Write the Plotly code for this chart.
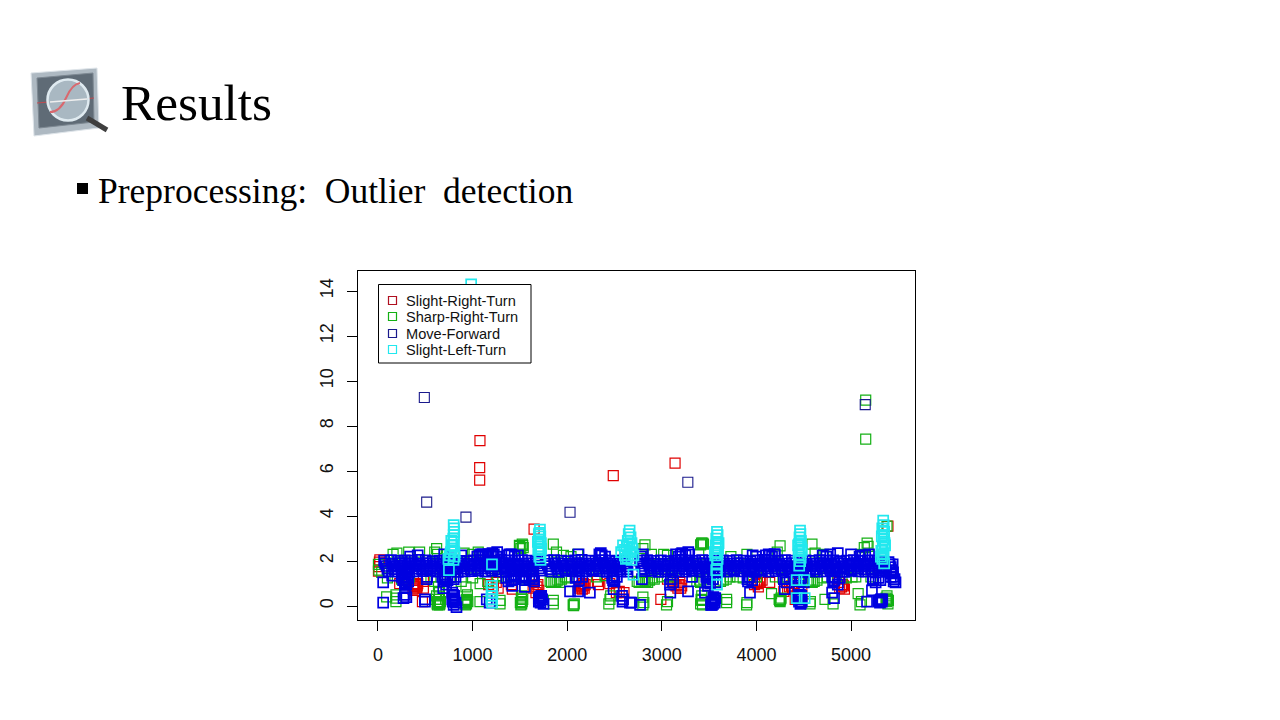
import plotly.graph_objects as go

W, H = 1280, 720
series_names = ["Slight-Right-Turn", "Sharp-Right-Turn", "Move-Forward", "Slight-Left-Turn"]
series_colors = ["#e00000", "#14b014", "#0000e0", "#22e8ee"]
x_ticks = [0, 1000, 2000, 3000, 4000, 5000]
y_ticks = [0, 2, 4, 6, 8, 10, 12, 14]

red_x = [5, 10, 15, 20, 1078, 1075, 1075, 2487, 3140, 1650, 5390,
         370, 385, 400, 410, 420, 375, 392, 405, 415, 2130, 2150, 2170, 2180, 2190, 2140, 2160, 2175,
         3130, 3170, 3190, 3210, 3110, 3150, 3180, 3200, 3980, 4000, 4020, 4060, 4140, 4010, 4040,
         4880, 4910, 4930, 4870, 4900, 4920, 4330, 4370, 4400, 4290, 4350, 4380,
         1640, 1670, 1690, 1700, 1650, 1680, 1220, 1250, 1270, 1170,
         2450, 2320, 2330, 2520, 2990, 3060, 230, 470, 480, 480,
         1410, 1420, 2600, 2550, 2590, 4410, 4480]
red_y = [1.55, 1.75, 1.95, 2.05, 7.35, 6.15, 5.6, 5.8, 6.35, 3.42, 3.55,
         .75, .85, .95, .8, 1.0, .9, .7, .85, .9, .8, .9, 1.0, .8, .95, .85, .75, .9,
         .95, .8, 1.05, .9, 1.1, .9, .95, .8, .95, 1.1, .85, 1.15, 1.05, 1.0, 1.05,
         .8, .95, .75, 1.05, .85, .9, .75, .9, 1.0, .65, .85, .8,
         .8, .6, .95, .7, 1.15, .85, .9, 1.05, .8, .95,
         1.0, 1.1, .95, .6, .3, 1.2, 1.0, .2, .8, 1.1,
         .95, .75, .6, .65, .3, .3, .65]

green_x = [5155, 5155,
           160, 200, 325, 440, 600, 620, 630, 910, 1000, 1060, 1120, 1500, 1525, 1510, 1535, 1495, 1530,
           1853, 1887, 1960, 2040, 2110, 2822, 2800, 2890, 3020, 3060, 3420, 3440, 3390, 3730, 3410, 3432,
           3900, 4250, 4220, 4587, 4620, 4710, 5140, 5170, 5180, 5100, 5380,
           10, 5, 40, 100, 180, 250, 330, 560, 600, 640, 650, 700, 760, 880, 930, 1000, 1080,
           1160, 1260, 1320, 1450, 1530, 1600,
           1820, 1860, 1900, 1940, 1980, 2000, 2310, 2400, 2740, 2790, 2830, 2870, 2920,
           1835, 1880, 1920, 2760, 2810, 2850, 2900, 3000, 3060, 3120, 3400, 3445,
           3370, 3410, 3620, 3680, 3720, 4550, 4590, 4640, 4200, 4280, 4820, 4950, 5050, 5210,
           4570, 4610, 3650, 4330, 3800, 3860, 4000, 5010, 4700, 4750,
           92, 190, 190, 190, 620, 625, 637, 640, 650, 660, 610, 630, 645, 655, 630,
           925, 936, 936, 945, 950, 930, 942, 920, 1078, 1290, 1290, 1505, 1519, 1530, 1519, 1510, 1525, 1515,
           1853, 1853, 2063, 2075, 2068, 2440, 2452, 2460, 2800, 2800, 2810, 3050, 3060,
           3410, 3422, 3422, 3430, 3415, 3685, 3685, 3896, 3900, 4160, 4240, 4250, 4260, 4245, 4255, 4566, 4570,
           4725, 4810, 5075, 5095, 5110, 5375, 5380, 5385, 5390, 5370, 5395]
green_y = [9.15, 7.42,
           2.3, 2.35, 2.4, 2.4, 2.4, 2.55, 2.3, 2.35, 2.3, 2.4, 2.3, 2.65, 2.75, 2.55, 2.6, 2.7, 2.7,
           2.75, 2.4, 2.25, 2.2, 2.3, 2.72, 2.55, 2.3, 2.3, 2.25, 2.8, 2.75, 2.3, 2.2, 2.72, 2.8,
           2.3, 2.67, 2.4, 2.75, 2.35, 2.3, 2.6, 2.8, 2.65, 2.3, 3.55,
           1.6, 1.85, 1.5, 1.25, 1.35, 1.2, 1.3, 1.3, 1.1, .85, .6, 1.25, 1.3, 1.1, .85, 1.25, 1.0,
           1.1, 1.35, 1.3, 1.3, 1.2, 1.3,
           1.1, 1.05, 1.15, 1.2, 1.3, 1.25, 1.3, 1.35, 1.1, 1.05, 1.1, 1.15, 1.2,
           1.05, 1.1, 1.05, 1.05, 1.15, 1.05, 1.25, 1.3, 1.35, 1.3, 1.15, 1.2,
           1.1, 1.05, 1.1, 1.2, 1.3, 1.1, 1.05, 1.15, 1.3, 1.25, 1.3, 1.25, 1.3, 1.3,
           1.15, 1.1, 1.15, 1.3, 1.3, 1.25, 1.3, 1.3, 1.25, 1.3,
           .41, .2, .35, .5, .45, .1, .1, .3, .05, .2, .3, .2, .15, .1, .05,
           .05, .1, .3, .5, .2, .15, .25, .1, .2, .1, .25, .15, .1, .3, .45, .05, .2, .35,
           .1, .25, .05, .1, .02, .1, .3, .45, .4, .05, .15, .05, .2,
           .1, .25, .45, .05, .3, .15, .3, .05, .15, .55, .3, .2, .35, .25, .28, .1, .2,
           .3, .1, .55, .05, .2, .2, .45, .3, .1, .35, .25]

blue_row1_x = [65, 138, 212, 284, 358, 430, 505, 578, 650, 724, 796, 868, 942, 1012, 1086, 1158,
               1232, 1303, 1376, 1448, 1522, 1592, 1666, 1790, 1862, 1936, 2008, 2082, 2153, 2226,
               2298, 2372, 2443, 2516, 2590, 2770, 2844, 2916, 2990, 3062, 3135, 3208, 3280, 3354,
               3426, 3500, 3572, 3646, 3718, 3790, 3864, 3936, 4010, 4082, 4156, 4228, 4302, 4374,
               4448, 4520, 4592, 4666, 4738, 4812, 4884, 4958, 5030, 5104, 5176, 5250, 5322, 5396]
blue_row1_y = [2.02, 2.04, 2.01, 2.03, 2.02, 2.05, 2.03, 2.0, 2.02, 2.03, 2.04, 2.01, 2.0, 2.03, 2.04, 2.02,
               2.01, 2.05, 2.03, 2.02, 2.04, 2.02, 2.0, 2.03, 2.04, 2.02, 2.0, 2.03, 2.05, 2.02,
               2.01, 2.04, 2.02, 2.0, 2.03, 2.02, 2.04, 2.01, 2.03, 2.0, 2.02, 2.05, 2.03, 2.01,
               2.04, 2.02, 2.0, 2.03, 2.01, 2.04, 2.02, 2.0, 2.03, 2.05, 2.02, 2.01, 2.04, 2.02,
               2.0, 2.03, 2.01, 2.04, 2.02, 2.03, 2.0, 2.02, 2.04, 2.01, 2.03, 2.02, 2.0, 1.95]
blue_row2_x = [90, 162, 236, 308, 382, 454, 528, 602, 674, 748, 820, 892, 966, 1036, 1110, 1182,
               1256, 1328, 1400, 1472, 1546, 1618, 1690, 1814, 1886, 1960, 2032, 2106, 2178, 2250,
               2322, 2396, 2468, 2540, 2614, 2794, 2868, 2940, 3014, 3086, 3160, 3232, 3304, 3378,
               3450, 3524, 3596, 3670, 3742, 3814, 3888, 3960, 4034, 4106, 4180, 4252, 4326, 4398,
               4472, 4544, 4616, 4690, 4762, 4836, 4908, 4982, 5054, 5128, 5200, 5274, 5346, 5420]
blue_row2_y = [1.78, 1.76, 1.79, 1.75, 1.78, 1.77, 1.8, 1.76, 1.78, 1.79, 1.75, 1.77, 1.78, 1.8, 1.76, 1.79,
               1.77, 1.75, 1.78, 1.79, 1.76, 1.78, 1.8, 1.77, 1.75, 1.79, 1.78, 1.76, 1.77, 1.8,
               1.78, 1.75, 1.79, 1.77, 1.76, 1.78, 1.79, 1.75, 1.77, 1.8, 1.78, 1.76, 1.79, 1.77,
               1.75, 1.78, 1.8, 1.76, 1.79, 1.77, 1.78, 1.75, 1.79, 1.76, 1.78, 1.8, 1.77, 1.75,
               1.79, 1.78, 1.76, 1.77, 1.8, 1.78, 1.75, 1.79, 1.77, 1.76, 1.78, 1.79, 1.75, 1.73]
blue_row3_x = [112, 186, 260, 332, 406, 478, 552, 626, 698, 772, 844, 916, 990, 1060, 1134, 1206,
               1280, 1352, 1424, 1496, 1570, 1642, 1714, 1838, 1910, 1984, 2056, 2130, 2202, 2274,
               2346, 2420, 2492, 2564, 2638, 2818, 2892, 2964, 3038, 3110, 3184, 3256, 3328, 3402,
               3474, 3548, 3620, 3694, 3766, 3838, 3912, 3984, 4058, 4130, 4204, 4276, 4350, 4422,
               4496, 4568, 4640, 4714, 4786, 4860, 4932, 5006, 5078, 5152, 5224, 5298, 5370, 5444]
blue_row3_y = [1.55, 1.53, 1.56, 1.52, 1.54, 1.55, 1.57, 1.53, 1.55, 1.56, 1.52, 1.54, 1.55, 1.57, 1.53, 1.56,
               1.54, 1.52, 1.55, 1.56, 1.53, 1.55, 1.57, 1.54, 1.52, 1.56, 1.55, 1.53, 1.54, 1.57,
               1.55, 1.52, 1.56, 1.54, 1.53, 1.55, 1.56, 1.52, 1.54, 1.57, 1.55, 1.53, 1.56, 1.54,
               1.52, 1.55, 1.57, 1.53, 1.56, 1.54, 1.55, 1.52, 1.56, 1.53, 1.55, 1.57, 1.54, 1.52,
               1.56, 1.55, 1.53, 1.54, 1.57, 1.55, 1.52, 1.56, 1.54, 1.53, 1.55, 1.56, 1.52, 1.5]
blue_row4_x = [76, 150, 224, 296, 370, 442, 516, 590, 662, 736, 808, 880, 954, 1024, 1098, 1170,
               1244, 1316, 1388, 1460, 1534, 1606, 1678, 1802, 1874, 1948, 2020, 2094, 2166, 2238,
               2310, 2384, 2456, 2528, 2602, 2782, 2856, 2928, 3002, 3074, 3148, 3220, 3292, 3366,
               3438, 3512, 3584, 3658, 3730, 3802, 3876, 3948, 4022, 4094, 4168, 4240, 4314, 4386,
               4460, 4532, 4604, 4678, 4750, 4824, 4896, 4970, 5042, 5116, 5188, 5262, 5334, 5408]
blue_row4_y = [1.9, 1.88, 1.91, 1.89, 1.9, 1.87, 1.91, 1.89, 1.9, 1.88, 1.91, 1.9, 1.87, 1.89, 1.91, 1.9,
               1.88, 1.9, 1.91, 1.87, 1.89, 1.9, 1.91, 1.88, 1.9, 1.89, 1.87, 1.91, 1.9, 1.88,
               1.89, 1.91, 1.9, 1.87, 1.88, 1.9, 1.91, 1.89, 1.87, 1.9, 1.91, 1.88, 1.89, 1.9,
               1.91, 1.87, 1.89, 1.9, 1.88, 1.91, 1.9, 1.89, 1.87, 1.91, 1.9, 1.88, 1.89, 1.91,
               1.9, 1.87, 1.88, 1.91, 1.9, 1.89, 1.9, 1.88, 1.91, 1.87, 1.9, 1.89, 1.91, 1.85]
blue_row5_x = [101, 174, 248, 320, 394, 466, 540, 614, 686, 760, 832, 904, 978, 1048, 1122, 1194,
               1268, 1340, 1412, 1484, 1558, 1630, 1702, 1826, 1898, 1972, 2044, 2118, 2190, 2262,
               2334, 2408, 2480, 2552, 2626, 2806, 2880, 2952, 3026, 3098, 3172, 3244, 3316, 3390,
               3462, 3536, 3608, 3682, 3754, 3826, 3900, 3972, 4046, 4118, 4192, 4264, 4338, 4410,
               4484, 4556, 4628, 4702, 4774, 4848, 4920, 4994, 5066, 5140, 5212, 5286, 5358, 5432]
blue_row5_y = [1.66, 1.64, 1.67, 1.65, 1.66, 1.63, 1.67, 1.65, 1.66, 1.64, 1.67, 1.66, 1.63, 1.65, 1.67, 1.66,
               1.64, 1.66, 1.67, 1.63, 1.65, 1.66, 1.67, 1.64, 1.66, 1.65, 1.63, 1.67, 1.66, 1.64,
               1.65, 1.67, 1.66, 1.63, 1.64, 1.66, 1.67, 1.65, 1.63, 1.66, 1.67, 1.64, 1.65, 1.66,
               1.67, 1.63, 1.65, 1.66, 1.64, 1.67, 1.66, 1.65, 1.63, 1.67, 1.66, 1.64, 1.65, 1.67,
               1.66, 1.63, 1.64, 1.67, 1.66, 1.65, 1.66, 1.64, 1.67, 1.63, 1.66, 1.65, 1.67, 1.6]
blue_outlier_x = [490, 515, 930, 2030, 3275, 5150]
blue_outlier_y = [9.27, 4.62, 3.95, 4.17, 5.5, 8.95]
blue_extra_x = [55, 55, 150, 285, 275, 295, 285, 300, 285, 270, 300, 497, 497, 515, 520,
                700, 715, 708, 690, 720, 790, 800, 793, 785, 810, 800, 830, 1150, 1180,
                1420, 1410, 1430, 1553, 1560, 1630, 1640, 1712, 1700, 1725, 1718, 1750,
                2030, 2115, 2100, 2240, 2485, 2490, 2480, 2580, 2585, 2590, 2663,
                2680, 2770, 2790, 3086, 3090, 3277, 3320, 3488, 3480, 3495, 3490, 3541, 3530, 3550, 3545, 3560, 3456,
                3911, 3920, 3932, 4300, 4310, 4461, 4450, 4470, 4465, 4455, 4460,
                4810, 4800, 4820, 4830, 5169, 5221, 5230, 5306, 5315, 5325, 5444, 5430, 5450, 5440,
                340, 420, 700, 880, 1090, 1210, 1260, 1390, 2120, 2355, 3200, 3280, 4140, 4190, 4780, 4860, 5120,
                250, 265, 290, 310, 320, 680, 700, 735, 770, 800, 820, 1355, 1380, 1405, 1440, 1535, 1565, 1600, 1625, 1650,
                2090, 2125, 2160, 2475, 2500, 2525, 3095, 3120, 3470, 3510, 3540, 3575, 3905, 3930, 3955,
                4290, 4320, 4350, 4420, 4445, 4475, 4500, 4800, 4825, 4860, 4880, 5235, 5260, 5290, 5310, 5420, 5470, 5460,
                1050, 1075, 1110, 1135, 1170, 1195, 1225, 1250, 1375, 1410, 1445, 1480, 2340, 2365, 2400, 2780, 2800,
                3150, 3180, 3215, 3250, 3290, 3960, 3995, 4100, 4130, 4165, 4195, 4700, 4740, 5000, 5090, 5150, 5190,
                770, 785, 805, 820, 1710, 1735, 1700, 1725, 3530, 3555, 3520, 3565, 4450, 4480, 4440, 4475, 5300, 5330, 5290, 5320]
blue_extra_y = [1.05, .15, 1.35, 1.0, 1.2, 1.3, 1.4, .95, .5, .35, .4, .2, .3, 1.2, 1.3,
                1.1, 1.25, 1.4, .8, .95, .2, .35, .5, .6, .25, .05, -.05, .3, .15,
                .9, 1.15, 1.4, .85, 1.15, 1.35, 1.2, .25, .35, .45, .15, .1,
                .65, .65, 1.3, .6, 1.15, .75, 1.35, .45, .2, .3, .15,
                .15, .05, 1.2, .95, .6, .65, 1.3, .9, 1.1, 1.25, 1.4, .1, .2, .3, .4, .15, .6,
                1.1, 1.3, .6, .75, 1.2, .5, .3, .15, .1, .4, 1.1,
                1.1, .6, .35, 1.25, .2, .7, 1.2, .15, .3, .2, 1.3, 1.45, 1.1, 1.85,
                2.2, 2.25, 2.3, 2.25, 2.3, 2.35, 2.4, 2.3, 2.3, 2.35, 2.3, 2.4, 2.25, 2.3, 2.3, 2.35, 2.25,
                1.3, 1.15, 1.05, 1.25, 1.1, 1.3, 1.2, 1.15, 1.3, 1.2, 1.3, 1.25, 1.1, 1.3, 1.2, 1.25, 1.35, 1.2, 1.3, 1.1,
                1.25, 1.15, 1.3, 1.25, 1.1, 1.3, 1.2, 1.05, 1.3, 1.0, 1.2, 1.05, 1.2, 1.3, 1.15,
                1.2, 1.05, 1.3, 1.15, .9, 1.25, 1.05, 1.3, 1.15, .95, 1.25, 1.2, 1.05, 1.25, 1.15, 1.3, 1.05, 1.2,
                2.2, 2.25, 2.3, 2.2, 2.3, 2.25, 2.3, 2.2, 2.25, 2.3, 2.2, 2.25, 2.3, 2.25, 2.2, 2.2, 2.3,
                2.3, 2.2, 2.35, 2.25, 2.3, 2.25, 2.2, 2.25, 2.3, 2.2, 2.3, 2.25, 2.2, 2.3, 2.2, 2.25, 2.3, 2.2,
                .3, .45, .15, .4, .3, .2, .4, .05, .25, .05, .35, .2, .2, .35, .45, .25, .3, .2, .25, .1]
blue_x = blue_outlier_x + blue_row1_x + blue_row2_x + blue_row3_x + blue_row4_x + blue_row5_x + blue_extra_x
blue_y = blue_outlier_y + blue_row1_y + blue_row2_y + blue_row3_y + blue_row4_y + blue_row5_y + blue_extra_y

cyan_x = [985,
          800, 803, 806, 800, 796, 804, 790, 780, 770, 760, 745, 808, 795, 775, 810, 798,
          1712, 1708, 1716, 1700, 1722, 1710, 1694, 1715, 1705, 1718, 1725, 1690, 1700,
          2660, 2650, 2670, 2640, 2680, 2630, 2690, 2610, 2660, 2570, 2700, 2640, 2620, 2680, 2655, 2590, 2675, 2610,
          3583, 3590, 3575, 3585, 3570, 3595, 3580, 3565, 3590, 3583, 3575, 3600, 3560, 3590,
          4461, 4465, 4455, 4470, 4450, 4475, 4460, 4445, 4468, 4462, 4452, 4440, 4480, 4465,
          5340, 5345, 5330, 5350, 5325, 5340, 5355, 5335, 5320, 5345, 5330, 5350, 5360, 5315, 5350,
          1205, 1200, 1210, 1205, 1198, 1206, 1205, 750, 3583, 3583, 4425, 4505, 4425, 4510, 2700]
cyan_y = [14.3,
          3.6, 3.45, 3.3, 3.15, 3.0, 2.85, 2.7, 2.55, 2.4, 2.25, 2.1, 2.4, 2.7, 2.9, 2.2, 2.05,
          3.4, 3.25, 3.1, 2.95, 2.8, 2.65, 2.5, 2.35, 2.2, 2.05, 2.55, 2.85, 3.2,
          3.35, 3.2, 3.05, 2.9, 2.8, 2.65, 2.55, 2.5, 2.4, 2.4, 2.25, 2.15, 2.1, 2.05, 2.75, 2.7, 2.4, 2.25,
          3.3, 3.15, 3.0, 2.85, 2.7, 2.55, 2.4, 2.25, 2.1, 1.9, 1.6, 2.8, 2.4, 2.6,
          3.35, 3.2, 3.05, 2.9, 2.75, 2.6, 2.45, 2.3, 2.15, 2.0, 1.8, 2.7, 2.5, 2.85,
          3.8, 3.6, 3.45, 3.3, 3.1, 2.95, 2.8, 2.6, 2.45, 2.3, 2.1, 1.9, 2.7, 2.2, 3.15,
          .9, .75, .6, .45, .3, .15, 1.85, 1.6, 1.4, .95, 1.15, 1.15, .35, .35, 1.4]

X0, X1, Y0, Y1 = 358, 915, 271, 620
n_out = len(blue_outlier_x)
n_dense = len(blue_x) - n_out
line_colors = [series_colors[0], series_colors[1],
               ["#1a1a8c"] * n_out + [series_colors[2]] * n_dense,
               series_colors[3]]
line_widths = [1.2, 1.2, [1.1] * n_out + [1.7] * n_dense, 1.7]

fig = go.Figure()
for name, color, lc, lw, xs, ys in zip(series_names, series_colors, line_colors, line_widths,
                                       [red_x, green_x, blue_x, cyan_x],
                                       [red_y, green_y, blue_y, cyan_y]):
    fig.add_trace(go.Scatter(x=xs, y=ys, mode="markers", name=name, showlegend=False,
                             marker=dict(symbol="square", size=10, color="rgba(0,0,0,0)",
                                         line=dict(width=lw, color=lc))))


def px(x):
    return x / W


def py(y):
    return 1 - y / H


shapes = []


def rect(x0, y0, x1, y1, fill="rgba(0,0,0,0)", line="rgba(0,0,0,0)", width=1):
    shapes.append(dict(type="rect", xref="paper", yref="paper", layer="above",
                       x0=px(x0), x1=px(x1), y0=py(y0), y1=py(y1),
                       fillcolor=fill, line=dict(color=line, width=width)))


def line(x0, y0, x1, y1, color, width):
    shapes.append(dict(type="line", xref="paper", yref="paper", layer="above",
                       x0=px(x0), x1=px(x1), y0=py(y0), y1=py(y1),
                       line=dict(color=color, width=width)))


def circle(cx, cy, r, fill, color, width):
    shapes.append(dict(type="circle", xref="paper", yref="paper", layer="above",
                       x0=px(cx - r), x1=px(cx + r), y0=py(cy - r), y1=py(cy + r),
                       fillcolor=fill, line=dict(color=color, width=width)))


# manual legend
rect(378.5, 284.5, 531, 363, fill="white", line="black", width=1)
legend_colors = ["#b01020", "#14b014", "#1a1a8c", "#22e8ee"]
legend_rows = [301, 317, 334, 350]
annotations = []
for name, c, ly in zip(series_names, legend_colors, legend_rows):
    rect(388.5, ly - 4.5, 396.5, ly + 3.5, line=c, width=1.2)
    annotations.append(dict(text=name, xref="paper", yref="paper", x=px(404), y=py(ly),
                            xanchor="left", yanchor="middle", showarrow=False,
                            font=dict(family="Liberation Sans", size=14.6, color="#111111")))

# slide heading
annotations.append(dict(text="Results", xref="paper", yref="paper", x=px(119), y=py(103),
                        xanchor="left", yanchor="middle", showarrow=False,
                        font=dict(family="Liberation Serif", size=51.3, color="black")))
annotations.append(dict(text="Preprocessing:  Outlier  detection", xref="paper", yref="paper",
                        x=px(96), y=py(191), xanchor="left", yanchor="middle", showarrow=False,
                        font=dict(family="Liberation Serif", size=35.5, color="black")))
rect(77, 183, 88, 194, fill="black")

# icon
shapes.append(dict(type="path", xref="paper", yref="paper", layer="above",
                   path=f"M {px(31)} {py(73)} L {px(97)} {py(68)} L {px(99)} {py(128)} L {px(34)} {py(136)} Z",
                   fillcolor="#aeb9c2", line=dict(color="#dfe5ea", width=1)))
shapes.append(dict(type="path", xref="paper", yref="paper", layer="above",
                   path=f"M {px(37)} {py(78)} L {px(93)} {py(73)} L {px(94)} {py(122)} L {px(39)} {py(128)} Z",
                   fillcolor="#5f6b76", line=dict(color="#7d8892", width=1)))
line(37, 103, 94, 98, "#c04a50", 1.2)
line(87, 118, 107, 130, "#3f3f3f", 5)
circle(68, 100, 20.5, "#a9b8c2", "#dfeaf0", 2.5)
shapes.append(dict(type="path", xref="paper", yref="paper", layer="above",
                   path=f"M {px(50)} {py(112)} Q {px(60)} {py(112)} {px(66)} {py(98)} T {px(80)} {py(83)}",
                   line=dict(color="#d9686e", width=2)))
line(50, 102, 87, 99, "#eeeeee", 1.5)

axis_common = dict(showgrid=False, zeroline=False, showline=True, mirror=True,
                   linecolor="black", linewidth=1, ticks="outside", ticklen=10,
                   tickwidth=1, tickcolor="black",
                   tickfont=dict(family="Liberation Sans", size=18, color="#111111"))
fig.update_layout(
    width=W, height=H, margin=dict(l=0, r=0, t=0, b=0), autosize=False,
    paper_bgcolor="white", plot_bgcolor="white", showlegend=False,
    xaxis=dict(domain=[px(X0), px(X1)], range=[-211, 5676], tickvals=x_ticks,
               ticktext=[str(v) for v in x_ticks], ticklabelstandoff=8, **axis_common),
    yaxis=dict(domain=[py(Y1), py(Y0)], range=[-0.62, 14.89], tickvals=y_ticks,
               ticktext=[str(v) for v in y_ticks], tickangle=-90, ticklabelstandoff=7, **axis_common),
    shapes=shapes, annotations=annotations,
)
fig.write_html("out.html", post_script="document.body.style.margin='0';",
               config={"displayModeBar": False})
